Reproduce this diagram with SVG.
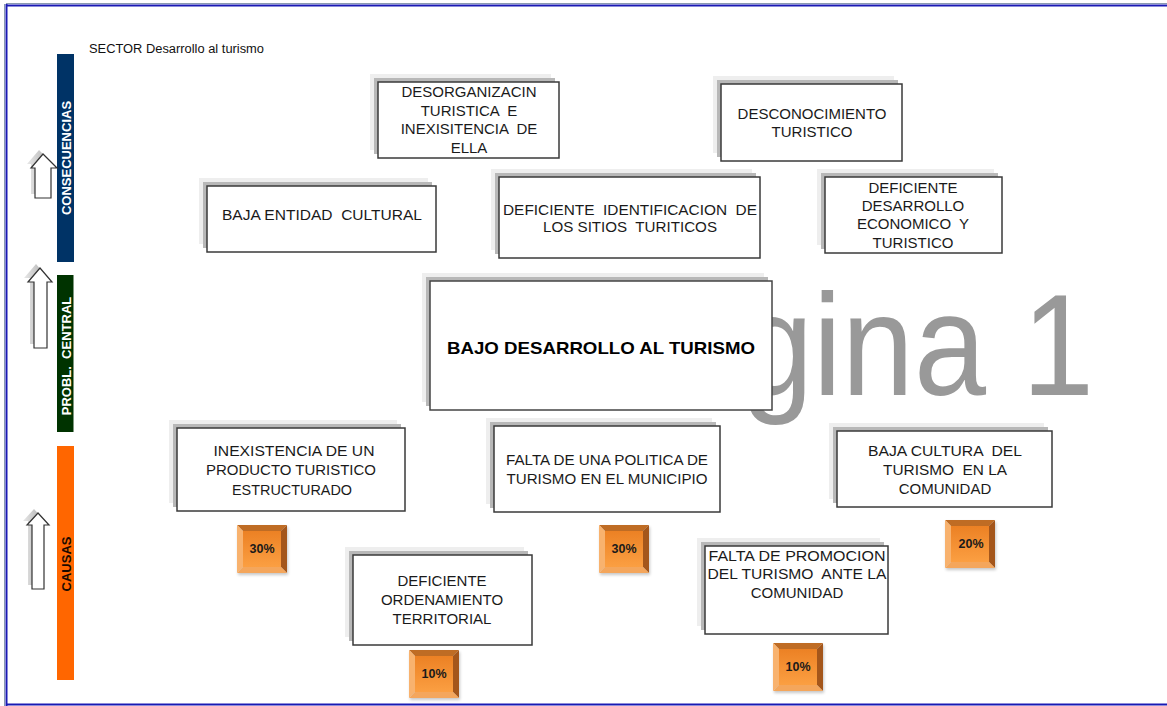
<svg xmlns="http://www.w3.org/2000/svg" width="1167" height="706" viewBox="0 0 1167 706">
<defs>
<style>
text{white-space:pre}
.bx{fill:#ffffff;stroke:#3a3a3a;stroke-width:1.5}
.sh1{fill:#eeeeee}
.sh2{fill:#b8b8b8}
.t{font-family:"Liberation Sans",Arial,sans-serif;font-size:15px;fill:#1a1a1a;text-anchor:middle}
.tb{font-family:"Liberation Sans",Arial,sans-serif;font-size:17px;font-weight:bold;fill:#000;text-anchor:middle}
.bar{font-family:"Liberation Sans",Arial,sans-serif;font-size:13px;font-weight:bold;text-anchor:middle}
.pct{font-family:"Liberation Sans",Arial,sans-serif;font-size:12.5px;font-weight:bold;fill:#1a1a1a;text-anchor:middle}
.arr{fill:#ffffff;stroke:#333;stroke-width:1.2}
.arrsh{fill:url(#arrg)}
</style>
<linearGradient id="face" x1="0" y1="0" x2="0" y2="1">
<stop offset="0" stop-color="#ec8124"/>
<stop offset="1" stop-color="#fb9f42"/>
</linearGradient>
<linearGradient id="arrg" x1="0" y1="0" x2="1" y2="0">
<stop offset="0" stop-color="#e8e8e8"/>
<stop offset="1" stop-color="#a8a8a8"/>
</linearGradient>
<filter id="blur" x="-20%" y="-20%" width="140%" height="140%">
<feGaussianBlur stdDeviation="1.5"/>
</filter>
<g id="badge">
<rect x="1" y="2" width="50" height="48" fill="#000" opacity="0.22" filter="url(#blur)"/>
<polygon points="0,0 50,0 44,6 6,6" fill="#bf6c24"/>
<polygon points="50,0 50,48 44,42 44,6" fill="#a4561b"/>
<polygon points="0,48 50,48 44,42 6,42" fill="#f4a65c"/>
<polygon points="0,0 6,6 6,42 0,48" fill="#f8b26e"/>
<rect x="6" y="6" width="38" height="36" fill="url(#face)"/>
</g>
</defs>

<rect x="0" y="0" width="1167" height="706" fill="#ffffff"/>

<g id="page-border">
<line x1="6" y1="3.5" x2="1167" y2="3.5" stroke="#8a9ab0" stroke-width="1"/>
<line x1="6" y1="5.5" x2="1167" y2="5.5" stroke="#1a1ab4" stroke-width="2"/>
<line x1="4.5" y1="4" x2="4.5" y2="706" stroke="#8a9ab0" stroke-width="1"/>
<line x1="6.5" y1="4" x2="6.5" y2="706" stroke="#1a1ab4" stroke-width="2"/>
<line x1="6" y1="704.5" x2="1167" y2="704.5" stroke="#1a1ab4" stroke-width="2"/>
</g>

<text id="sector" x="89" y="53" font-family="'Liberation Sans',Arial,sans-serif" font-size="12.5" fill="#111" textLength="175" lengthAdjust="spacingAndGlyphs">SECTOR Desarrollo al turismo</text>

<g id="bar-consecuencias">
<rect x="57" y="54" width="17" height="208" fill="#003366"/>
<text class="bar" fill="#ffffff" transform="translate(70.5,158) rotate(-90)">CONSECUENCIAS</text>
</g>
<g id="bar-problema">
<rect x="57" y="275" width="16.5" height="157" fill="#003300"/>
<text class="bar" fill="#ffffff" transform="translate(70.5,356) rotate(-90)">PROBL.  CENTRAL</text>
</g>
<g id="bar-causas">
<rect x="57" y="446" width="17" height="234" fill="#ff6600"/>
<text class="bar" fill="#1a0a00" transform="translate(70.5,564) rotate(-90)">CAUSAS</text>
</g>

<g id="arrow-1">
<polygon class="arrsh" points="39,150 27,164 31,164 31,194 47,194 47,164 53,164"/>
<polygon class="arr" points="43,154 31,168 35,168 35,198 51,198 51,168 57,168"/>
</g>
<g id="arrow-2">
<polygon class="arrsh" points="36,264 24,278 30,278 30,344 43,344 43,278 48,278"/>
<polygon class="arr" points="40,268 28,282 34,282 34,348 47,348 47,282 52,282"/>
</g>
<g id="arrow-3">
<polygon class="arrsh" points="34,509 23,521 28,521 28,585 40,585 40,521 45,521"/>
<polygon class="arr" points="38,513 27,525 32,525 32,589 44,589 44,525 49,525"/>
</g>

<text id="watermark" x="741" y="395" font-family="'Liberation Sans',Arial,sans-serif" font-size="144" fill="#999999" textLength="353" lengthAdjust="spacingAndGlyphs">gina 1</text>

<g id="connectors"></g>

<g id="n-desorganizacion">
<rect class="sh1" x="370" y="74" width="181" height="76"/>
<rect class="sh2" x="374" y="78" width="181" height="76"/>
<rect class="bx" x="378" y="82" width="181" height="76"/>
<text class="t" x="469" y="97">DESORGANIZACIN</text>
<text class="t" x="469" y="115.5">TURISTICA  E</text>
<text class="t" x="469" y="134">INEXISITENCIA  DE</text>
<text class="t" x="469" y="152.5">ELLA</text>
</g>

<g id="n-desconocimiento">
<rect class="sh1" x="713" y="76" width="181" height="77"/>
<rect class="sh2" x="717" y="80" width="181" height="77"/>
<rect class="bx" x="721" y="84" width="181" height="77"/>
<text class="t" x="812" y="118.5">DESCONOCIMIENTO</text>
<text class="t" x="812" y="136.5">TURISTICO</text>
</g>

<g id="n-baja-entidad">
<rect class="sh1" x="199" y="178" width="229" height="66"/>
<rect class="sh2" x="203" y="182" width="229" height="66"/>
<rect class="bx" x="207" y="186" width="229" height="66"/>
<text class="t" x="322" y="219.5" textLength="200" lengthAdjust="spacingAndGlyphs">BAJA ENTIDAD  CULTURAL</text>
</g>

<g id="n-deficiente-identificacion">
<rect class="sh1" x="491" y="169" width="261" height="81"/>
<rect class="sh2" x="495" y="173" width="261" height="81"/>
<rect class="bx" x="499" y="177" width="261" height="81"/>
<text class="t" x="630" y="214.5" textLength="254" lengthAdjust="spacingAndGlyphs">DEFICIENTE  IDENTIFICACION  DE</text>
<text class="t" x="630" y="231.5" textLength="174" lengthAdjust="spacingAndGlyphs">LOS SITIOS  TURITICOS</text>
</g>

<g id="n-deficiente-desarrollo">
<rect class="sh1" x="817" y="169" width="177" height="76"/>
<rect class="sh2" x="821" y="173" width="177" height="76"/>
<rect class="bx" x="825" y="177" width="177" height="76"/>
<text class="t" x="913" y="192.5">DEFICIENTE</text>
<text class="t" x="913" y="210.5">DESARROLLO</text>
<text class="t" x="913" y="229">ECONOMICO  Y</text>
<text class="t" x="913" y="247.5">TURISTICO</text>
</g>

<g id="n-problema-central">
<rect class="sh1" x="422" y="273" width="342" height="129"/>
<rect class="sh2" x="426" y="277" width="342" height="129"/>
<rect class="bx" x="430" y="281" width="342" height="129" style="stroke:#444"/>
<text class="tb" x="601" y="354" textLength="308" lengthAdjust="spacingAndGlyphs">BAJO DESARROLLO AL TURISMO</text>
</g>

<g id="n-inexistencia">
<rect class="sh1" x="169" y="420" width="228" height="83"/>
<rect class="sh2" x="173" y="424" width="228" height="83"/>
<rect class="bx" x="177" y="428" width="228" height="83"/>
<text class="t" x="294" y="456" textLength="161" lengthAdjust="spacingAndGlyphs">INEXISTENCIA DE UN</text>
<text class="t" x="291" y="475" textLength="170" lengthAdjust="spacingAndGlyphs">PRODUCTO TURISTICO</text>
<text class="t" x="292" y="495" textLength="120" lengthAdjust="spacingAndGlyphs">ESTRUCTURADO</text>
</g>

<g id="n-falta-politica">
<rect class="sh1" x="486" y="418" width="226" height="86"/>
<rect class="sh2" x="490" y="422" width="226" height="86"/>
<rect class="bx" x="494" y="426" width="226" height="86"/>
<text class="t" x="607" y="465" textLength="202" lengthAdjust="spacingAndGlyphs">FALTA DE UNA POLITICA DE</text>
<text class="t" x="607" y="484" textLength="201" lengthAdjust="spacingAndGlyphs">TURISMO EN EL MUNICIPIO</text>
</g>

<g id="n-baja-cultura">
<rect class="sh1" x="829" y="423" width="215" height="76"/>
<rect class="sh2" x="833" y="427" width="215" height="76"/>
<rect class="bx" x="837" y="431" width="215" height="76"/>
<text class="t" x="945" y="456" textLength="154" lengthAdjust="spacingAndGlyphs">BAJA CULTURA  DEL</text>
<text class="t" x="945" y="474.5" textLength="124" lengthAdjust="spacingAndGlyphs">TURISMO  EN LA</text>
<text class="t" x="945" y="493.5">COMUNIDAD</text>
</g>

<g id="n-ordenamiento">
<rect class="sh1" x="345" y="547" width="179" height="90"/>
<rect class="sh2" x="349" y="551" width="179" height="90"/>
<rect class="bx" x="353" y="555" width="179" height="90"/>
<text class="t" x="442" y="585.5">DEFICIENTE</text>
<text class="t" x="442" y="604.5">ORDENAMIENTO</text>
<text class="t" x="442" y="623.5">TERRITORIAL</text>
</g>

<g id="n-promocion">
<rect class="sh1" x="697" y="538" width="183" height="88"/>
<rect class="sh2" x="701" y="542" width="183" height="88"/>
<rect class="bx" x="705" y="546" width="183" height="88"/>
<text class="t" x="797" y="560.5" textLength="177" lengthAdjust="spacingAndGlyphs">FALTA DE PROMOCION</text>
<text class="t" x="797" y="578.5" textLength="179" lengthAdjust="spacingAndGlyphs">DEL TURISMO  ANTE LA</text>
<text class="t" x="797" y="597.5">COMUNIDAD</text>
</g>

<g id="badge-inexistencia">
<use href="#badge" x="237" y="525"/>
<text class="pct" x="262" y="553">30%</text>
</g>
<g id="badge-politica">
<use href="#badge" x="599" y="525"/>
<text class="pct" x="624" y="553">30%</text>
</g>
<g id="badge-cultura">
<use href="#badge" x="945" y="520"/>
<text class="pct" x="971" y="548">20%</text>
</g>
<g id="badge-ordenamiento">
<use href="#badge" x="409" y="650"/>
<text class="pct" x="434" y="678">10%</text>
</g>
<g id="badge-promocion">
<use href="#badge" x="773" y="643"/>
<text class="pct" x="798" y="671">10%</text>
</g>
</svg>
